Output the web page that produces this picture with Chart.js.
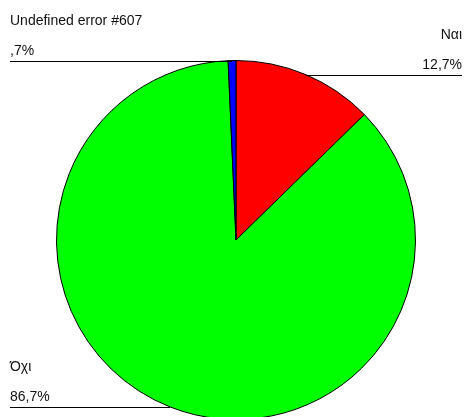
<!DOCTYPE html>
<html>
<head>
<meta charset="utf-8">
<script src="https://cdn.jsdelivr.net/npm/chart.js@4"></script>
<style>
  html, body { margin: 0; padding: 0; background: #fff; overflow: hidden; }
  #wrap { width: 472px; height: 417px; overflow: hidden; }
  #wrap div { width: 472px; height: 421px; }
</style>
</head>
<body>
<div id="wrap"><div><canvas id="pie"></canvas></div></div>
<script>
const categories = ['Ναι', 'Όχι', 'Undefined error #607'];
const percents = [12.7, 86.7, 0.7];
const sliceColors = ['#ff0000', '#00ff00', '#0000ff'];

function fmtPct(v) {
    // greek style: comma decimal, no leading zero
    let s = v.toFixed(1).replace('.', ',');
    if (s.startsWith('0,')) s = s.substring(1);
    return s + '%';
}

const leaderLabels = {
    id: 'leaderLabels',
    afterDraw(chart) {
        const ctx = chart.ctx;
        const arcs = chart.getDatasetMeta(0).data;
        ctx.save();
        ctx.font = '14px "Liberation Sans", Arial, sans-serif';
        ctx.fillStyle = '#111';
        ctx.strokeStyle = '#000';
        ctx.lineWidth = 1;
        arcs.forEach(function (arc, i) {
            const p = arc.getProps(['x', 'y', 'startAngle', 'endAngle', 'outerRadius'], true);
            const mid = (p.startAngle + p.endAngle) / 2;
            const px = p.x + Math.cos(mid) * p.outerRadius;
            const py = Math.round(p.y + Math.sin(mid) * p.outerRadius) + 0.5;
            const left = px < p.x;
            const ex = left ? 10 : 462;
            ctx.beginPath();
            ctx.moveTo(px, py);
            ctx.lineTo(ex, py);
            ctx.stroke();
            ctx.textAlign = left ? 'left' : 'right';
            ctx.textBaseline = 'alphabetic';
            ctx.fillText(fmtPct(percents[i]), ex, py - 7);
            ctx.fillText(categories[i], ex, py - 37);
        });
        ctx.restore();
    }
};

new Chart(document.getElementById('pie'), {
    type: 'pie',
    data: {
        labels: categories,
        datasets: [{
            data: percents,
            backgroundColor: sliceColors,
            borderColor: '#000',
            borderWidth: 1
        }]
    },
    options: {
        responsive: true,
        maintainAspectRatio: false,
        animation: false,
        layout: { padding: { top: 60, bottom: 1, left: 56, right: 56 } },
        plugins: {
            legend: { display: false },
            tooltip: { enabled: false }
        }
    },
    plugins: [leaderLabels]
});
</script>
</body>
</html>
